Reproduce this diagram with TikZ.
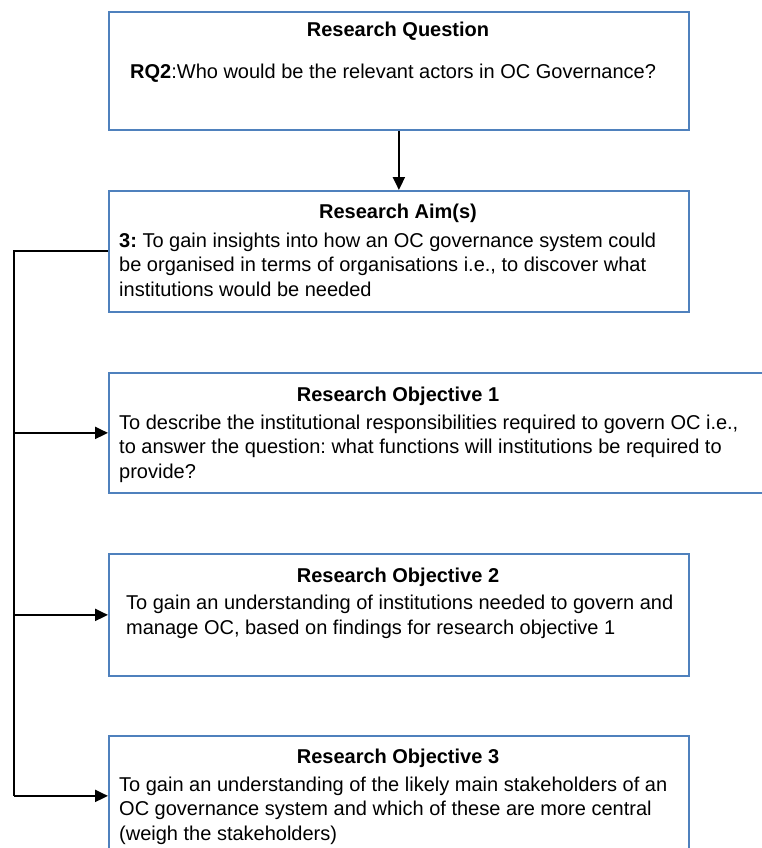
\documentclass[tikz,border=0pt]{standalone}
\usepackage{fontspec}
\setmainfont{Liberation Sans}
\usetikzlibrary{arrows.meta,calc}
\definecolor{boxblue}{HTML}{4F81BD}
\frenchspacing
\begin{document}
\begin{tikzpicture}[x=1pt,y=-1pt,
  box/.style={draw=boxblue, line width=1.8pt, fill=white, anchor=north west, inner sep=0pt},
  head/.style={font=\fontsize{20}{24}\selectfont\bfseries, anchor=base, inner sep=0pt},
  body/.style={font=\fontsize{20}{24.3}\selectfont, align=left, anchor=base west, inner sep=0pt},
  link/.style={line width=2pt, -{Triangle[length=13pt,width=12pt]}},
  wire/.style={line width=2pt}]
\useasboundingbox (0,0) rectangle (762,848);
\clip (0,0) rectangle (762,848);

% boxes
\node[box, minimum width=580pt, minimum height=118pt] (q) at (108,11) {};
\node[box, minimum width=580pt, minimum height=121pt] (aim) at (108,190) {};
\node[box, minimum width=680pt, minimum height=120pt] (o1) at (108,372) {};
\node[box, minimum width=580pt, minimum height=122pt] (o2) at (108,553) {};
\node[box, minimum width=580pt, minimum height=120pt] (o3) at (108,735) {};

% headings
\node[head] (qh) at (398,37) {Research Question};
\node[head] (aimh) at (398,218) {Research Aim(s)};
\node[head] (o1h) at (398,401) {Research Objective 1};
\node[head] (o2h) at (398,582) {Research Objective 2};
\node[head] (o3h) at (398,763) {Research Objective 3};

% body texts (anchored at the baseline of their last line)
\node[body] (qt) at (130,79) {\textbf{RQ2}:Who would be the relevant actors in OC Governance?};
\node[body] (aimt) at (119,296) {\textbf{3:}\mdseries{} To gain insights into how an OC governance system could\\
be organised in terms of organisations i.e., to discover what\\
institutions would be needed};
\node[body] (o1t) at (119,478) {To describe the institutional responsibilities required to govern OC i.e.,\\
to answer the question: what functions will institutions be required to\\
provide?};
\node[body] (o2t) at (126,634) {To gain an understanding of institutions needed to govern and\\
manage OC, based on findings for research objective 1};
\node[body] (o3t) at (119,840) {To gain an understanding of the likely main stakeholders of an\\
OC governance system and which of these are more central\\
(weigh the stakeholders)};

% connectors
\draw[link] (q.south) -- (aim.north);
\coordinate (spine) at ($(aim.west)+(-94,0)$);
\draw[wire] (aim.west) -- (spine) -- (spine |- o3.west);
\draw[link] (spine |- o1.west) -- (o1.west);
\draw[link] (spine |- o2.west) -- (o2.west);
\draw[link] (spine |- o3.west) -- (o3.west);
\end{tikzpicture}
\end{document}
